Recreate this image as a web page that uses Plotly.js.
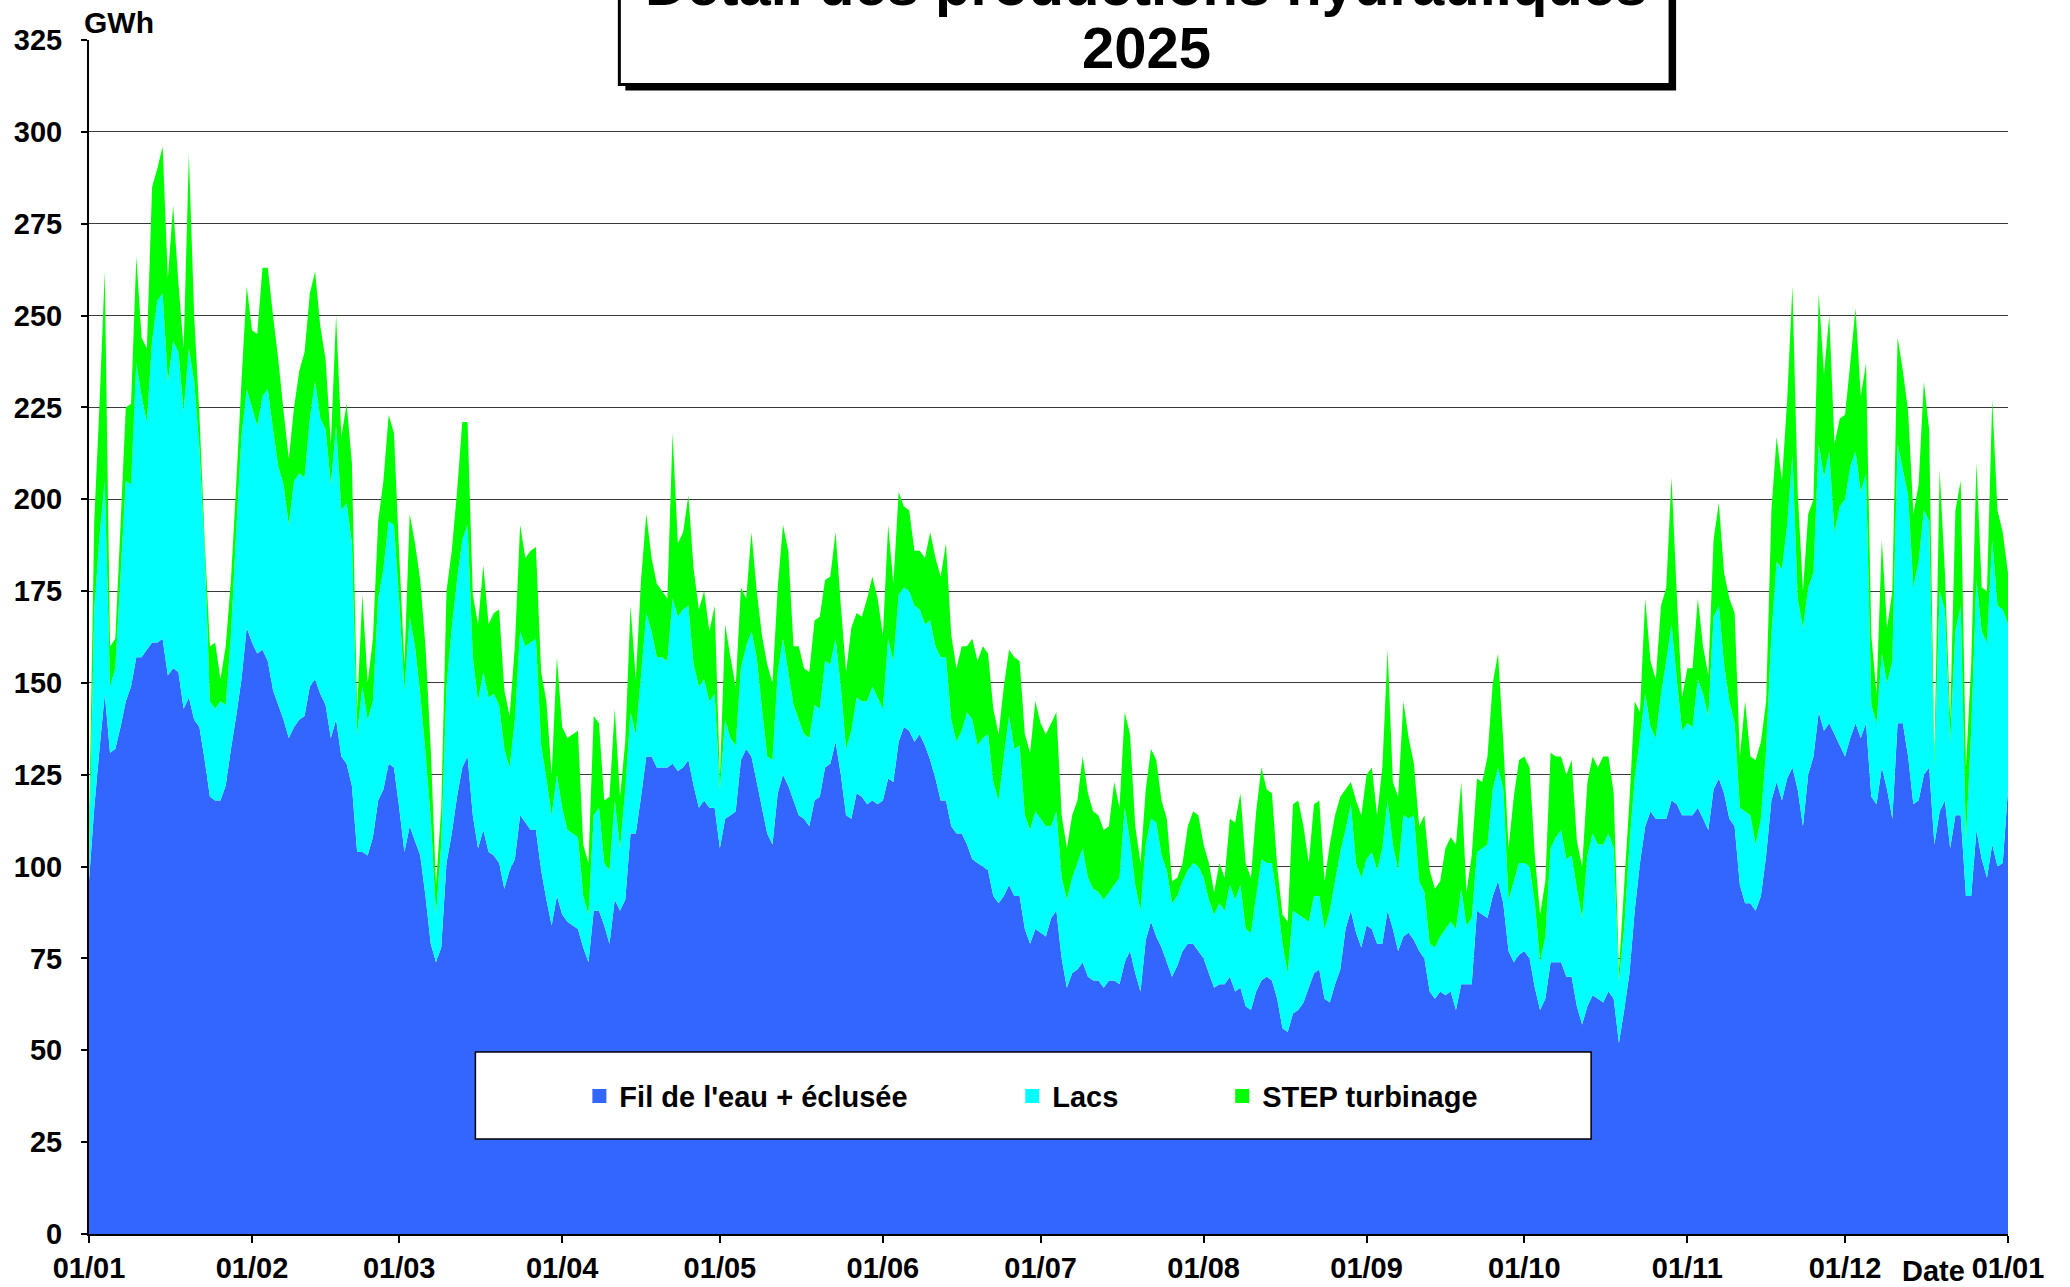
<!DOCTYPE html>
<html><head><meta charset="utf-8">
<script src="https://cdn.plot.ly/plotly-3.0.1.min.js"></script>
<style>html,body{margin:0;padding:0;background:#fff}</style>
</head><body><div id="chart" style="width:2070px;height:1287px"></div>
<script>
// Daily hydro production 2025 (GWh)
const fil = [
96,116,132,147,131,132,138,145,149,157,
157,159,161,161,162,152,154,153,143,146,
140,138,129,119,118,118,122,132,141,151,
165,161,158,159,156,148,144,140,135,138,
140,141,149,151,147,144,135,140,130,128,
122,104,104,103,108,118,121,128,127,116,
104,111,107,103,92,79,74,78,101,109,
119,127,130,114,105,110,104,103,101,94,
99,102,114,112,110,110,99,91,84,92,
87,85,84,83,78,74,88,88,84,79,
91,88,91,109,109,119,130,130,127,127,
127,128,126,127,129,122,116,118,116,116,
105,113,114,115,129,132,130,123,116,109,
106,120,125,122,118,114,113,111,118,119,
127,128,134,125,114,113,120,119,117,118,
117,118,124,123,134,138,137,134,136,133,
129,124,118,118,111,109,109,106,102,101,
100,99,92,90,92,95,92,92,83,79,
83,82,81,86,88,75,67,71,72,74,
70,69,69,67,69,69,68,74,77,71,
66,80,85,81,78,74,70,73,77,79,
79,77,75,71,67,68,68,70,66,67,
62,61,66,69,70,69,64,56,55,60,
61,63,67,71,72,64,63,68,72,83,
88,82,78,84,83,79,79,88,83,77,
81,82,80,77,75,66,64,66,65,66,
61,68,68,68,88,87,86,92,96,90,
77,74,76,77,75,67,61,64,74,74,
74,70,70,62,57,62,65,64,63,66,
64,52,61,71,88,101,111,115,113,113,
113,118,117,114,114,114,116,113,110,121,
124,120,113,111,95,90,90,88,92,103,
118,123,118,124,127,121,111,125,130,142,
137,139,136,133,130,135,139,135,139,119,
117,127,121,113,139,139,130,117,118,125,
127,106,115,118,105,114,114,92,92,110,
102,97,106,100,101,121];
const lacs = [
6,54,58,58,18,22,41,60,55,80,
71,62,82,93,94,80,89,87,81,95,
92,76,57,26,25,27,22,31,50,66,
65,64,62,69,74,71,65,64,58,67,
67,65,73,81,75,75,69,80,67,71,
66,32,45,37,37,55,60,66,66,56,
44,57,53,44,39,34,13,28,48,56,
59,62,63,43,40,43,42,44,43,38,
28,38,50,48,51,52,34,33,30,33,
29,25,25,25,14,13,26,28,17,20,
27,17,30,33,27,33,39,34,30,30,
29,45,42,43,42,33,33,33,29,31,
16,27,21,18,25,28,34,34,27,21,
23,33,37,31,26,26,23,24,26,24,
29,27,28,24,18,24,26,26,28,31,
29,25,38,33,40,38,38,37,34,33,
38,36,39,39,29,25,28,36,38,32,
35,37,31,28,38,46,40,41,31,31,
32,31,30,25,27,22,24,26,29,31,
27,25,24,24,24,26,29,42,30,24,
22,26,28,31,25,25,20,19,19,20,
22,23,22,20,20,22,20,25,25,28,
21,21,26,33,31,32,27,23,16,28,
26,23,18,21,20,19,25,28,32,27,
29,19,19,18,21,20,26,30,23,22,
33,31,34,19,18,13,14,15,18,19,
22,26,16,18,16,18,20,29,31,31,
14,22,25,24,25,23,13,17,31,34,
36,32,33,32,29,41,44,42,43,43,
41,17,22,35,36,34,36,23,22,34,
43,48,34,23,25,24,35,34,31,47,
47,35,32,28,21,25,24,18,21,29,
45,60,63,69,85,52,54,51,50,73,
69,74,55,65,70,74,74,67,68,25,
22,31,29,43,76,69,71,59,65,72,
67,21,60,52,29,50,57,15,45,68,
62,64,83,71,69,45];
const step = [
8,24,36,57,11,8,14,20,22,29,
16,20,42,36,40,28,37,19,17,53,
18,9,3,15,18,6,16,15,13,15,
28,21,25,35,33,31,29,20,18,20,
28,34,34,30,25,19,11,30,20,27,
22,7,25,10,17,21,24,29,25,13,
7,28,28,31,29,19,8,10,26,21,
24,32,28,17,21,29,20,22,26,16,
14,20,29,24,25,25,20,21,11,32,
22,25,27,29,14,14,27,23,17,20,
25,14,13,29,15,26,27,20,20,18,
17,45,20,21,30,26,21,24,19,24,
3,26,22,16,22,13,27,18,20,25,
21,23,31,33,16,20,18,18,23,25,
22,24,29,22,21,28,23,23,28,30,
27,20,31,21,28,22,22,15,16,18,
24,24,22,31,23,20,23,18,22,23,
25,22,20,18,19,18,25,23,22,21,
30,26,25,28,27,17,14,17,17,25,
23,21,21,19,18,28,19,26,29,16,
13,15,19,17,15,14,6,5,5,12,
14,14,9,10,6,11,9,18,21,25,
18,15,23,25,20,19,9,8,14,29,
31,25,16,25,26,13,18,18,15,11,
6,17,17,23,23,15,22,41,17,20,
31,22,14,15,21,20,16,15,22,23,
23,29,9,17,20,18,24,29,31,13,
14,23,28,29,27,13,13,15,26,22,
20,23,26,13,14,20,21,21,24,21,
15,3,12,12,21,7,26,18,16,24,
20,40,23,9,15,16,22,13,11,21,
28,25,28,30,14,30,16,23,21,13,
34,34,24,34,46,29,10,20,20,41,
28,37,24,24,23,28,39,26,30,19,
8,31,15,19,29,27,23,20,21,35,
25,3,33,10,6,33,34,20,18,32,
12,14,38,26,21,14];

const seriesNames = ["Fil de l'eau + éclusée", "Lacs", "STEP turbinage"];
const seriesColors = ["#3366FF", "#00FFFF", "#00FF00"];
const tickDates = ["2025-01-01","2025-02-01","2025-03-01","2025-04-01","2025-05-01","2025-06-01",
  "2025-07-01","2025-08-01","2025-09-01","2025-10-01","2025-11-01","2025-12-01","2026-01-01"];
const tickLabels = ["01/01","01/02","01/03","01/04","01/05","01/06","01/07","01/08","01/09","01/10","01/11","01/12","01/01"];
const titleLines = ["Détail des productions hydrauliques", "2025"];
const yUnit = "GWh";
const xUnit = "Date";

// one date per daily value, starting 1 Jan 2025
const dates = fil.map((_, i) => new Date(Date.UTC(2025, 0, 1) + i * 86400000).toISOString().slice(0, 10));

const FONT = {family: "Liberation Sans, Arial, sans-serif", color: "#000", weight: "bold"};
const f = (size) => Object.assign({}, FONT, {size});

const values = [fil, lacs, step];
const traces = values.map((v, k) => ({
  type: "scatter", x: dates, y: v, name: seriesNames[k],
  stackgroup: "hydro", mode: "none", fillcolor: seriesColors[k],
  line: {width: 0}, showlegend: false, hoverinfo: "x+y+name"
}));
// legend entries (square markers)
const legendIds = ["legend", "legend2", "legend3"];
seriesNames.forEach((n, k) => traces.push({
  type: "scatter", x: [null], y: [null], name: n, mode: "markers",
  marker: {symbol: "square", size: 14, color: seriesColors[k]},
  legend: legendIds[k], showlegend: true
}));

// pixel helpers for annotations/shapes (plot area: x 88.5..2008, y 39.6..1234)
const PX0 = 88.5, PX1 = 2008, PY0 = 1234, PY1 = 39.6;
const px = (x) => (x - PX0) / (PX1 - PX0);
const py = (y) => (PY0 - y) / (PY0 - PY1);

const legendBase = {orientation: "h", bgcolor: "rgba(0,0,0,0)", borderwidth: 0,
  font: f(29), xanchor: "left", yanchor: "middle", y: py(1096)};

const layout = {
  width: 2070, height: 1287,
  margin: {l: 88.5, r: 62, t: 39.6, b: 53},
  paper_bgcolor: "#fff", plot_bgcolor: "#fff",
  showlegend: true,
  legend: Object.assign({}, legendBase, {x: px(579)}),
  legend2: Object.assign({}, legendBase, {x: px(1012)}),
  legend3: Object.assign({}, legendBase, {x: px(1222)}),
  xaxis: {
    type: "date", range: ["2025-01-01", "2026-01-01"],
    tickmode: "array", tickvals: tickDates, ticktext: tickLabels,
    ticks: "outside", ticklen: 7, tickwidth: 2, tickcolor: "#000",
    showline: true, linecolor: "#000", linewidth: 2, showgrid: false,
    tickfont: f(29), zeroline: false, fixedrange: true
  },
  yaxis: {
    range: [0, 325], tick0: 0, dtick: 25,
    ticks: "outside", ticklen: 6, tickwidth: 2, tickcolor: "#000",
    ticklabelstandoff: 13,
    showline: true, linecolor: "#000", linewidth: 2,
    showgrid: true, gridcolor: "#3a3a3a", gridwidth: 1,
    tickfont: f(29), zeroline: false, fixedrange: true
  },
  shapes: [
    // legend frame
    {type: "rect", xref: "paper", yref: "paper", x0: px(475), x1: px(1591), y0: py(1139), y1: py(1052),
     fillcolor: "#fff", line: {color: "#000", width: 1.5}, layer: "above"},
    // title box shadow + box
    {type: "rect", xref: "paper", yref: "paper", x0: px(625), x1: px(1676), y0: py(90), y1: py(-30),
     fillcolor: "#000", line: {width: 0}, layer: "above"},
    {type: "rect", xref: "paper", yref: "paper", x0: px(619), x1: px(1670), y0: py(84), y1: py(-30),
     fillcolor: "#fff", line: {color: "#000", width: 3}, layer: "above"},
    // white patch behind unit label on top gridline
    {type: "rect", xref: "paper", yref: "paper", x0: px(90), x1: px(165), y0: py(44), y1: py(34),
     fillcolor: "#fff", line: {width: 0}, layer: "above"}
  ],
  annotations: [
    {text: titleLines[0], xref: "paper", yref: "paper", x: px(1146), y: py(19), xanchor: "center", yanchor: "bottom",
     showarrow: false, font: f(58)},
    {text: titleLines[1], xref: "paper", yref: "paper", x: px(1146), y: py(82), xanchor: "center", yanchor: "bottom",
     showarrow: false, font: f(58)},
    {text: yUnit, xref: "paper", yref: "paper", x: px(119), y: py(22), xanchor: "center", yanchor: "middle",
     showarrow: false, font: f(30)},
    {text: xUnit, xref: "paper", yref: "paper", x: px(1933), y: py(1271), xanchor: "center", yanchor: "middle",
     showarrow: false, font: f(29)}
  ]
};

Plotly.newPlot("chart", traces, layout, {displayModeBar: false, staticPlot: true});
</script></body></html>
